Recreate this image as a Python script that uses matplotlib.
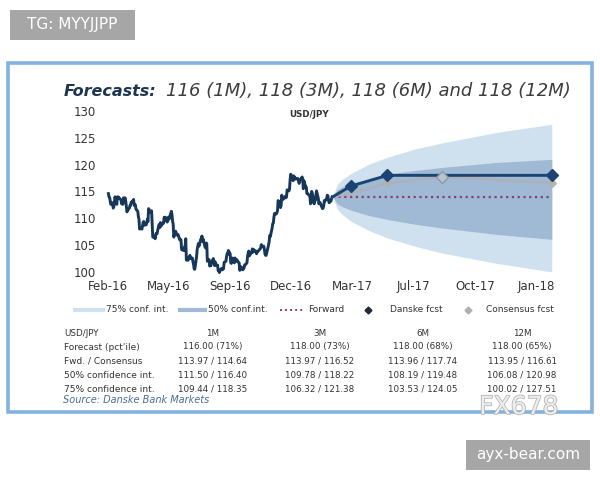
import numpy as np
import pandas as pd
import matplotlib
matplotlib.use('Agg')
import matplotlib.pyplot as plt
import matplotlib.dates as mdates
from matplotlib.lines import Line2D
from matplotlib.patches import Rectangle
import matplotlib.patheffects as pe

# USD/JPY daily closes (Feb-2016 .. Feb-2017)
hist_start = '2016-02-15'
hist_values = [
    114.6, 114.0, 113.9, 113.2, 112.6, 112.9, 111.9, 112.1, 112.9, 114.0,
    112.6, 114.0, 114.0, 113.7, 113.8, 113.4, 112.7, 113.3, 112.6, 113.8,
    113.8, 113.1, 112.2, 111.2, 111.5, 111.9, 112.4, 112.4, 113.0, 113.0,
    113.5, 112.4, 112.6, 112.5, 111.7, 111.3, 110.3, 109.8, 108.0, 108.1,
    108.0, 108.6, 109.3, 109.4, 108.7, 108.8, 109.2, 109.8, 109.4, 111.8,
    111.1, 111.3, 111.4, 108.7, 106.5, 106.5, 106.2, 107.0, 107.2, 107.1,
    108.7, 108.9, 108.3, 109.2, 108.6, 109.1, 109.1, 110.2, 109.9, 110.2,
    109.3, 109.9, 110.2, 109.8, 110.2, 111.3, 110.7, 109.5, 108.9, 106.5,
    107.6, 107.3, 106.9, 107.0, 107.0, 106.0, 106.1, 106.0, 104.2, 104.1,
    104.0, 104.7, 104.9, 106.2, 102.2, 102.2, 102.7, 102.8, 103.1, 102.5,
    102.6, 101.9, 101.4, 100.6, 100.5, 102.8, 104.2, 104.8, 105.3, 104.8,
    106.1, 106.2, 106.7, 105.7, 106.1, 104.7, 104.5, 105.4, 105.3, 102.0,
    102.3, 101.1, 101.3, 101.2, 101.8, 102.5, 101.8, 101.2, 101.9, 101.3,
    101.3, 100.3, 100.4, 99.9, 100.2, 100.7, 100.4, 100.5, 100.6, 101.8,
    102.0, 102.9, 103.4, 103.3, 104.0, 103.4, 101.7, 101.6, 102.0, 102.6,
    101.7, 102.6, 102.3, 102.0, 102.3, 101.8, 101.7, 100.3, 100.6, 101.0,
    100.4, 100.7, 100.7, 101.3, 101.3, 101.7, 102.9, 103.5, 103.9, 103.0,
    103.6, 103.6, 104.3, 103.7, 104.2, 103.8, 103.9, 103.4, 103.8, 103.8,
    104.2, 104.3, 104.5, 105.1, 104.7, 104.8, 104.3, 103.4, 103.1, 103.1,
    104.5, 105.1, 105.6, 106.8, 106.6, 108.2, 109.0, 109.1, 110.2, 110.9,
    110.8, 111.1, 111.4, 113.3, 113.2, 112.0, 112.4, 114.3, 114.0, 113.5,
    113.9, 114.1, 113.8, 114.0, 115.3, 115.1, 115.4, 117.2, 118.2, 118.0,
    117.0, 117.9, 117.6, 117.6, 117.3, 117.4, 117.4, 117.0, 116.5, 116.9,
    117.5, 117.7, 117.3, 115.5, 117.0, 115.8, 115.8, 114.6, 114.6, 114.5,
    114.1, 112.7, 113.2, 115.0, 114.6, 112.7, 113.7, 113.3, 114.3, 115.1,
    113.7, 112.7, 113.0, 112.9, 112.6, 111.8, 111.9, 112.3, 113.3, 113.2,
    113.7, 114.3, 114.2, 113.4, 112.9, 113.2, 113.6, 114.0,
]

# forecast horizon (months after spot)
spot_date = pd.Timestamp('2017-02-23')
fc_months = [0, 1, 3, 6, 12]
danske = [114.0, 116.0, 118.0, 118.0, 118.0]
consensus = [114.0, 114.64, 116.52, 117.74, 116.61]
forward = [114.0, 113.97, 113.97, 113.96, 113.95]

# confidence bands (table values + estimates read between them)
band_months = [0, 0.25, 0.5, 1, 2, 3, 4.5, 6, 9, 12]
ci75_lo = [114.0, 111.7, 110.8, 109.44, 107.7, 106.32, 104.8, 103.53, 101.6, 100.02]
ci75_hi = [114.0, 116.3, 117.2, 118.35, 120.1, 121.38, 122.9, 124.05, 126.0, 127.51]
ci50_lo = [114.0, 112.7, 112.2, 111.50, 110.5, 109.78, 108.9, 108.19, 107.0, 106.08]
ci50_hi = [114.0, 115.3, 115.8, 116.40, 117.4, 118.22, 118.9, 119.48, 120.4, 120.98]

tick_dates = ['2016-02-14', '2016-05-26', '2016-09-05', '2016-12-16',
              '2017-03-28', '2017-07-08', '2017-10-18', '2018-01-28']
tick_labels = ['Feb-16', 'May-16', 'Sep-16', 'Dec-16', 'Mar-17', 'Jul-17', 'Oct-17', 'Jan-18']

table_cols = ['USD/JPY', '1M', '3M', '6M', '12M']
table_rows = [
    ['Forecast (pct\'ile)', '116.00 (71%)', '118.00 (73%)', '118.00 (68%)', '118.00 (65%)'],
    ['Fwd. / Consensus', '113.97 / 114.64', '113.97 / 116.52', '113.96 / 117.74', '113.95 / 116.61'],
    ['50% confidence int.', '111.50 / 116.40', '109.78 / 118.22', '108.19 / 119.48', '106.08 / 120.98'],
    ['75% confidence int.', '109.44 / 118.35', '106.32 / 121.38', '103.53 / 124.05', '100.02 / 127.51'],
]

navy = '#17375a'
c75 = '#cfe0ef'
c50 = '#a0b9d5'
fwd_col = '#8a3f6e'
cons_col = '#b0b0b0'
txt = '#333333'

W, H = 600, 480
fig = plt.figure(figsize=(6, 4.8), dpi=100)
fig.patch.set_facecolor('white')


def fx(px):
    return px / W


def fy(py):
    return 1 - py / H


# blue frame
fig.add_artist(Rectangle((fx(8), fy(412)), fx(584), 349 / H, transform=fig.transFigure,
                         fill=False, edgecolor='#82b3de', linewidth=2.6))

# watermark boxes
fig.add_artist(Rectangle((fx(10), fy(40)), fx(125), 30 / H, transform=fig.transFigure,
                         facecolor='#a6a6a6', edgecolor='none'))
fig.text(fx(72), fy(25), 'TG: MYYJJPP', color='white', fontsize=11, ha='center', va='center')
fig.add_artist(Rectangle((fx(466), fy(470)), fx(124), 30 / H, transform=fig.transFigure,
                         facecolor='#a6a6a6', edgecolor='none'))
fig.text(fx(528), fy(455), 'ayx-bear.com', color='white', fontsize=11, ha='center', va='center')

# title
t1 = fig.text(fx(64), fy(91), 'Forecasts:', fontsize=11.5, style='italic', weight='bold',
              color='#1d3550', va='center')
fig.canvas.draw()
bb = t1.get_window_extent()
fig.text(bb.x1 / W + fx(9), fy(91), '116 (1M), 118 (3M), 118 (6M) and 118 (12M)', fontsize=13,
         style='italic', color='#3c3c3c', va='center')

# main chart
x0 = mdates.date2num(pd.Timestamp('2016-02-06'))
x1 = mdates.date2num(pd.Timestamp('2018-03-09'))
ymin, ymax = 99.3, 130.5
ax = fig.add_axes([fx(103), 1 - (272 + (100 - ymin) * 5.37) / H, fx(457), (ymax - ymin) * 5.37 / H])
ax.set_xlim(x0, x1)
ax.set_ylim(ymin, ymax)
ax.patch.set_alpha(0)
for s in ax.spines.values():
    s.set_visible(False)

hist_dates = pd.bdate_range(hist_start, periods=len(hist_values))
band_dates = spot_date + pd.to_timedelta(np.array(band_months) * 30.44, unit='D')
fc_dates = spot_date + pd.to_timedelta(np.array(fc_months) * 30.44, unit='D')

ax.fill_between(band_dates, ci75_lo, ci75_hi, color=c75, lw=0, zorder=1)
ax.fill_between(band_dates, ci50_lo, ci50_hi, color=c50, lw=0, zorder=2)
ax.plot(fc_dates, forward, color=fwd_col, lw=1.6, ls=(0, (1, 1.6)), zorder=3)
ax.plot(hist_dates, hist_values, color=navy, lw=2.1, zorder=4)
ax.plot(fc_dates, consensus, color=cons_col, lw=1.7, marker='D', ms=4,
        markevery=[2, 3, 4], zorder=4, alpha=0.85)
ax.plot(fc_dates, danske, color='#1c4470', lw=2.1, marker='D', ms=6,
        markevery=[1, 2, 4], zorder=5)
ax.plot(fc_dates[3:4], consensus[3:4], ls='none', marker='D', ms=6, color='#b9c3cd',
        markeredgecolor='#8c99a8', zorder=6)

ax.set_xticks([mdates.date2num(pd.Timestamp(d)) for d in tick_dates])
ax.set_xticklabels(tick_labels)
ax.set_yticks([100, 105, 110, 115, 120, 125, 130])
ax.tick_params(length=0, labelsize=8.5, colors=txt, pad=5)
ax.tick_params(axis='x', pad=3)
ax.text(0.451, 0.965, 'USD/JPY', transform=ax.transAxes, fontsize=6.3, weight='bold',
        color=txt, ha='center', va='center')

# legend row
ly = fy(310)
tf = fig.transFigure
fig.add_artist(Line2D([fx(75), fx(103)], [ly, ly], transform=tf, color=c75, lw=3))
fig.text(fx(106), ly, '75% conf. int.', fontsize=6.5, color=txt, va='center')
fig.add_artist(Line2D([fx(180), fx(205)], [ly, ly], transform=tf, color=c50, lw=3))
fig.text(fx(208), ly, '50% conf.int.', fontsize=6.5, color=txt, va='center')
fig.add_artist(Line2D([fx(280), fx(305)], [ly, ly], transform=tf, color=fwd_col, lw=1.4,
                      ls=(0, (1, 1.6))))
fig.text(fx(308), ly, 'Forward', fontsize=6.5, color=txt, va='center')
fig.add_artist(Line2D([fx(368)], [ly], transform=tf, color='#1c2a3a', marker='D', ms=3.5))
fig.text(fx(390), ly, 'Danske fcst', fontsize=6.5, color=txt, va='center')
fig.add_artist(Line2D([fx(468)], [ly], transform=tf, color=cons_col, marker='D', ms=3.5))
fig.text(fx(486), ly, 'Consensus fcst', fontsize=6.5, color=txt, va='center')

# forecast table
row_y = [333, 347, 361, 375, 389]
col_x = [213, 320, 423, 522]
fig.text(fx(64), fy(row_y[0]), table_cols[0], fontsize=6.3, color=txt, va='center')
for j, c in enumerate(table_cols[1:]):
    fig.text(fx(col_x[j]), fy(row_y[0]), c, fontsize=6.3, color=txt, va='center', ha='center')
for i, row in enumerate(table_rows):
    fig.text(fx(64), fy(row_y[i + 1]), row[0], fontsize=6.5, color=txt, va='center')
    for j, cell in enumerate(row[1:]):
        fig.text(fx(col_x[j]), fy(row_y[i + 1]), cell, fontsize=6.3, color=txt,
                 va='center', ha='center')

fig.text(fx(63), fy(400), 'Source: Danske Bank Markets', fontsize=7, style='italic',
         color='#4d6d8f', va='center')

fig.text(fx(519), fy(407), 'FX678', fontsize=18, color='#eeeeee', ha='center', va='center',
         path_effects=[pe.withStroke(linewidth=1.2, foreground='#b5b5b5')])

fig.savefig('out.png', dpi=100)
